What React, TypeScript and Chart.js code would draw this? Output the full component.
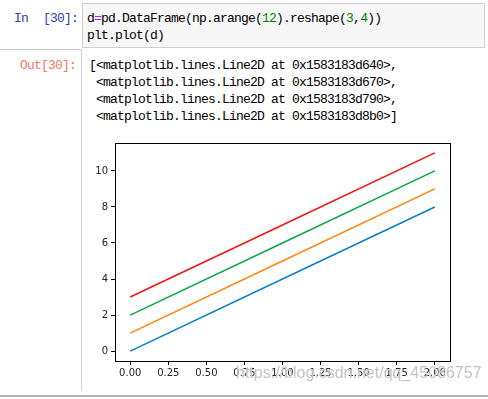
import React, { useEffect, useRef } from "react";
import { Chart, registerables } from "chart.js";

Chart.register(...registerables);

const xValues = [0, 1, 2];
const series0 = [0, 4, 8];
const series1 = [1, 5, 9];
const series2 = [2, 6, 10];
const series3 = [3, 7, 11];
const seriesColors = ["#0a7fc4", "#ff8512", "#06a845", "#f01414"];
const xTicks = [0, 0.25, 0.5, 0.75, 1.0, 1.25, 1.5, 1.75, 2.0];
const yTicks = [0, 2, 4, 6, 8, 10];
const outLines = [
  "[<matplotlib.lines.Line2D at 0x1583183d640>,",
  " <matplotlib.lines.Line2D at 0x1583183d670>,",
  " <matplotlib.lines.Line2D at 0x1583183d790>,",
  " <matplotlib.lines.Line2D at 0x1583183d8b0>]",
];

const mono: React.CSSProperties = {
  fontFamily: "'Liberation Mono', 'DejaVu Sans Mono', monospace",
  fontSize: 13,
  letterSpacing: -0.8,
  whiteSpace: "pre",
  position: "absolute",
  lineHeight: "17px",
};

const boxPlugin = {
  id: "boxPlugin",
  afterDraw(chart: any) {
    const { ctx, chartArea } = chart;
    ctx.save();
    ctx.strokeStyle = "#000";
    ctx.lineWidth = 1;
    ctx.strokeRect(
      Math.round(chartArea.left) + 0.5,
      Math.round(chartArea.top) + 0.5,
      Math.round(chartArea.right - chartArea.left),
      Math.round(chartArea.bottom - chartArea.top)
    );
    ctx.restore();
  },
};

function LineChart() {
  const ref = useRef<HTMLCanvasElement>(null);
  useEffect(() => {
    if (!ref.current) return;
    const all = [series0, series1, series2, series3];
    const tickFont = { family: "'DejaVu Sans', sans-serif", size: 10 };
    const chart = new Chart(ref.current, {
      type: "line",
      data: {
        datasets: all.map((s, i) => ({
          label: String(i),
          data: s.map((v, j) => ({ x: xValues[j], y: v })),
          borderColor: seriesColors[i],
          borderWidth: 1.5,
          pointRadius: 0,
          tension: 0,
          fill: false,
        })),
      },
      options: {
        animation: false,
        responsive: false,
        events: [],
        layout: { padding: { top: 13, right: 20, left: 0, bottom: 0 } },
        plugins: { legend: { display: false }, tooltip: { enabled: false } },
        scales: {
          x: {
            type: "linear",
            min: -0.1,
            max: 2.1,
            afterBuildTicks: (s: any) => {
              s.ticks = xTicks.map((v) => ({ value: v }));
            },
            afterFit: (s: any) => {
              s.height = 31;
            },
            ticks: {
              callback: (v: any) => Number(v).toFixed(2),
              font: tickFont,
              color: "#222",
              padding: 2,
              maxRotation: 0,
              autoSkip: false,
            },
            grid: { drawOnChartArea: false, drawTicks: true, tickLength: 4, color: "#000" },
            border: { display: true, color: "#000" },
          },
          y: {
            type: "linear",
            min: -0.55,
            max: 11.55,
            afterBuildTicks: (s: any) => {
              s.ticks = yTicks.map((v) => ({ value: v }));
            },
            afterFit: (s: any) => {
              s.width = 30;
            },
            ticks: {
              callback: (v: any) => String(v),
              font: tickFont,
              color: "#222",
              padding: 3,
              autoSkip: false,
            },
            grid: { drawOnChartArea: false, drawTicks: true, tickLength: 4, color: "#000" },
            border: { display: true, color: "#000" },
          },
        },
      },
      plugins: [boxPlugin],
    });
    return () => chart.destroy();
  }, []);
  return (
    <canvas
      ref={ref}
      width={385}
      height={262}
      style={{ position: "absolute", left: 85, top: 130, width: 385, height: 262 }}
    />
  );
}

export default function App() {
  return (
    <div
      style={{
        position: "absolute",
        left: 0,
        top: 0,
        width: 488,
        height: 399,
        background: "#fff",
        overflow: "hidden",
      }}
    >
      {/* code cell */}
      <div
        style={{
          position: "absolute",
          left: 82,
          top: 3,
          width: 403,
          height: 45,
          background: "#f7f7f7",
          border: "1px solid #cfcfcf",
          boxSizing: "border-box",
        }}
      />
      <div style={{ position: "absolute", left: 0, top: 49, width: 82, height: 1, background: "#cfcfcf" }} />
      <div style={{ position: "absolute", left: 81, top: 50, width: 1, height: 341, background: "#d0d0d0" }} />
      <div style={{ position: "absolute", left: 0, top: 395, width: 488, height: 2, background: "#b4b4b4" }} />

      <span style={{ ...mono, left: 14, top: 10, color: "#303f9f" }}>In</span>
      <span style={{ ...mono, left: 43, top: 10, color: "#303f9f" }}>[30]:</span>
      <span style={{ ...mono, left: 20, top: 57, color: "#ee7b62" }}>Out[30]:</span>

      <div style={{ ...mono, left: 87, top: 10, color: "#000" }}>
        d<span style={{ color: "#aa22ff" }}>=</span>pd.DataFrame(np.arange(
        <span style={{ color: "#008000" }}>12</span>).reshape(
        <span style={{ color: "#008000" }}>3</span>,<span style={{ color: "#008000" }}>4</span>))
        {"\n"}plt.plot(d)
      </div>

      <div style={{ ...mono, left: 89, top: 57, color: "#000" }}>{outLines.join("\n")}</div>

      <LineChart />

      <div
        style={{
          position: "absolute",
          left: 236,
          top: 363,
          fontFamily: "'Liberation Sans', Arial, sans-serif",
          fontSize: 16,
          color: "rgba(185,185,185,0.85)",
          textShadow: "0 0 1px #fff",
          whiteSpace: "nowrap",
          lineHeight: "20px",
        }}
      >
        https://blog.csdn.net/qq_45086757
      </div>
    </div>
  );
}
